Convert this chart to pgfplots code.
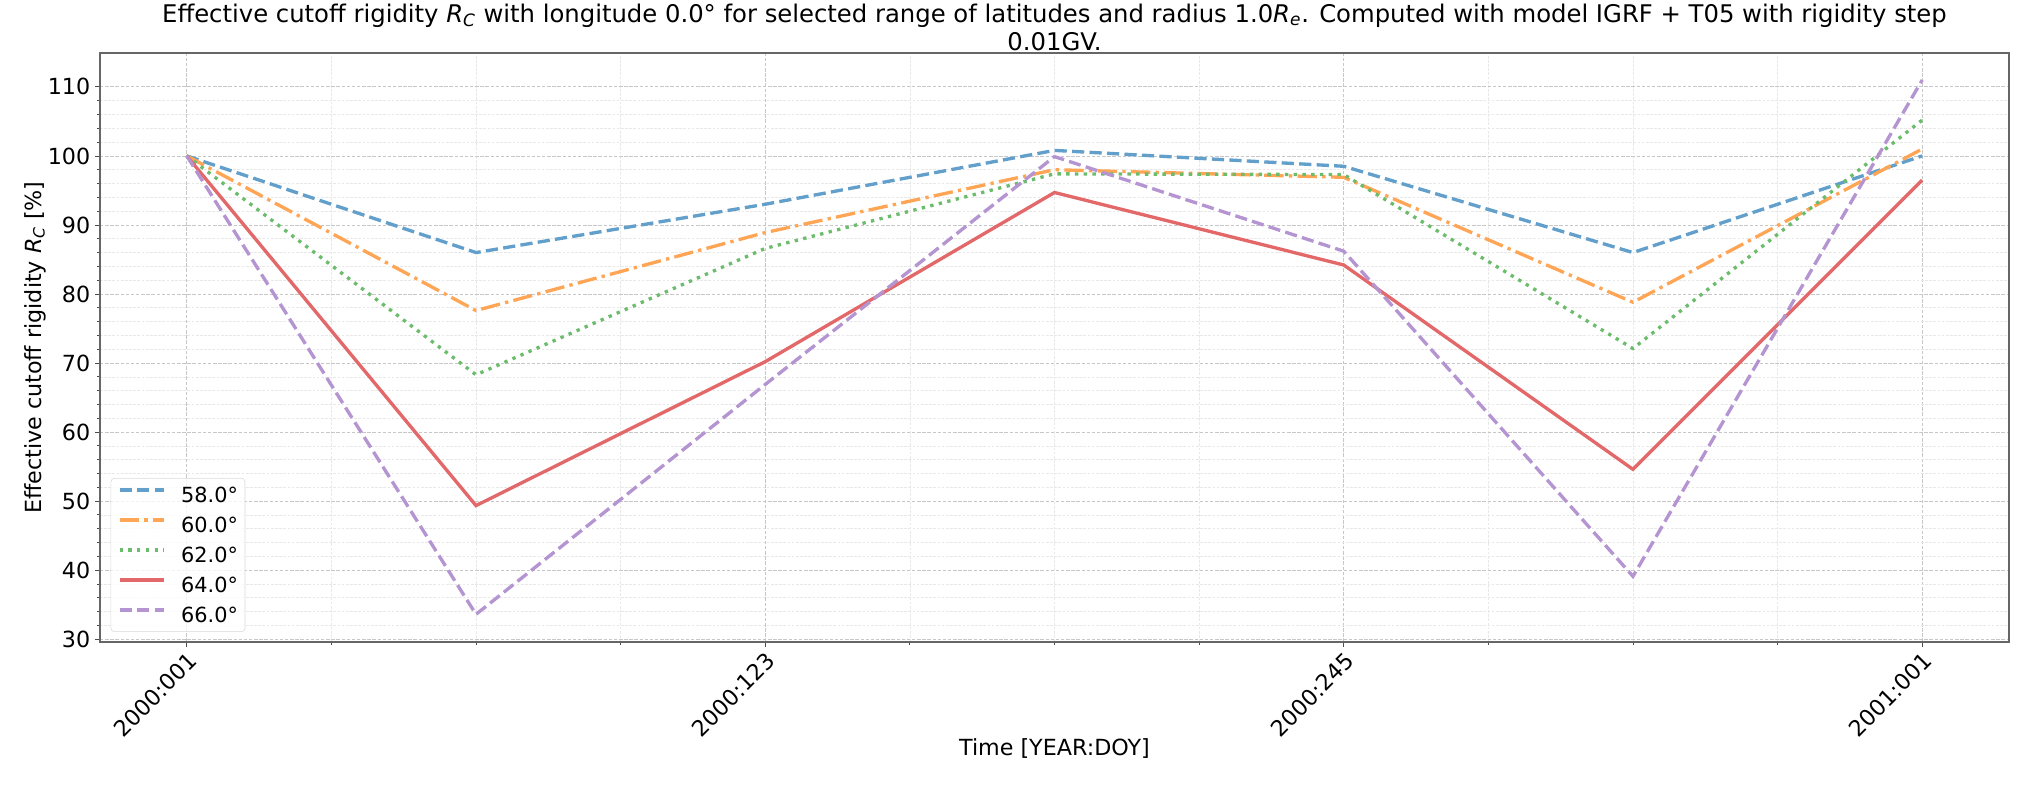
\documentclass[border=0pt]{standalone}
\usepackage{fontspec}
\setmainfont{DejaVu Sans}
\usepackage{pgfplots}
\pgfplotsset{compat=1.18}
\definecolor{cblue}{HTML}{629FCA}
\definecolor{corange}{HTML}{FFA556}
\definecolor{cgreen}{HTML}{6BBC6B}
\definecolor{cred}{HTML}{E2686A}
\definecolor{cpurple}{HTML}{B495D1}
\newcommand{\Rsub}[1]{\textit{R}\textsubscript{\textit{#1}}}
\begin{document}
\begin{tikzpicture}
\begin{axis}[
  scale only axis,
  width=1374.5pt, height=424pt,
  at={(0,0)}, anchor=south west,
  xmin=-0.3, xmax=6.3,
  ymin=29.6, ymax=114.9,
  xtick={0,2,4,6},
  xticklabels={2000:001,2000:123,2000:245,2001:001},
  minor x tick num=3,
  ytick={30,40,...,110},
  minor y tick num=4,
  tick align=outside,
  major tick length=3.5pt,
  minor tick length=2pt,
  tick style={black!70, line width=0.6pt},
  axis line style={black!60, line width=0.9pt},
  xtick pos=bottom, ytick pos=left,
  /pgf/number format/assume math mode=true,
  tick label style={font=\fontsize{16}{19}\selectfont},
  xticklabel style={rotate=45, anchor=north east, inner sep=2pt},
  grid=both,
  major grid style={black!22, dash pattern=on 2.5pt off 1.2pt, line width=0.55pt},
  minor grid style={black!9, dash pattern=on 2pt off 1pt, line width=0.45pt},
  title={Effective cutoff rigidity \Rsub{C} with longitude 0.0° for selected range of latitudes and radius 1.0\Rsub{e}. Computed with model IGRF + T05 with rigidity step\\0.01GV.},
  title style={at={(axis description cs:0.5,1)}, anchor=center, yshift=12.6pt, align=center, font=\fontsize{17.5}{20.5}\selectfont},
  xlabel={Time [YEAR:DOY]},
  ylabel={Effective cutoff rigidity \Rsub{C} [\%]},
  every axis x label/.style={at={(axis description cs:0.5,0)}, anchor=center, yshift=-77pt, font=\fontsize{16}{19}\selectfont},
  every axis y label/.style={at={(axis description cs:0,0.5)}, xshift=-46.8pt, rotate=90, anchor=center, font=\fontsize{16}{19}\selectfont},
  legend style={at={(axis description cs:0,0)}, anchor=south west, xshift=7.7pt, yshift=7.2pt,
    draw=black!15, rounded corners=2.5pt, fill=white, fill opacity=0.8, text opacity=1,
    font=\fontsize{15}{18}\selectfont, row sep=10.6pt, inner xsep=5pt, inner ysep=6.5pt,
    nodes={inner sep=0pt, text height=11pt, text depth=0pt},
    /tikz/every odd column/.append style={column sep=11.5pt}},
  legend cell align=left,
  legend image code/.code={\draw[#1] (0pt,3.5pt) -- (31.7pt,3.5pt);},
]
\addplot[cblue, line width=2.4pt, dash pattern=on 8.8pt off 3.8pt] coordinates {
(0,100) (1,86.0) (2,93.0) (3,100.8) (4,98.5) (5,86.0) (6,100.0)};
\addlegendentry{58.0°}
\addplot[corange, line width=2.4pt, dash pattern=on 14pt off 3.8pt on 2.4pt off 3.8pt] coordinates {
(0,100) (1,77.6) (2,88.9) (3,98.0) (4,96.9) (5,78.8) (6,101.0)};
\addlegendentry{60.0°}
\addplot[cgreen, line width=2.4pt, dash pattern=on 2.4pt off 3.9pt] coordinates {
(0,100) (1,68.3) (2,86.6) (3,97.4) (4,97.3) (5,72.1) (6,105.2)};
\addlegendentry{62.0°}
\addplot[cred, line width=2.4pt] coordinates {
(0,100) (1,49.35) (2,70.2) (3,94.7) (4,84.2) (5,54.6) (6,96.5)};
\addlegendentry{64.0°}
\addplot[cpurple, line width=2.4pt, dash pattern=on 8.8pt off 3.8pt] coordinates {
(0,100) (1,33.6) (2,66.9) (3,99.9) (4,86.2) (5,39.1) (6,111.0)};
\addlegendentry{66.0°}
\end{axis}
\pgfresetboundingbox
\path[use as bounding box] (-72pt,-103pt) rectangle (1393.2pt,462.2pt);
\end{tikzpicture}
\end{document}
